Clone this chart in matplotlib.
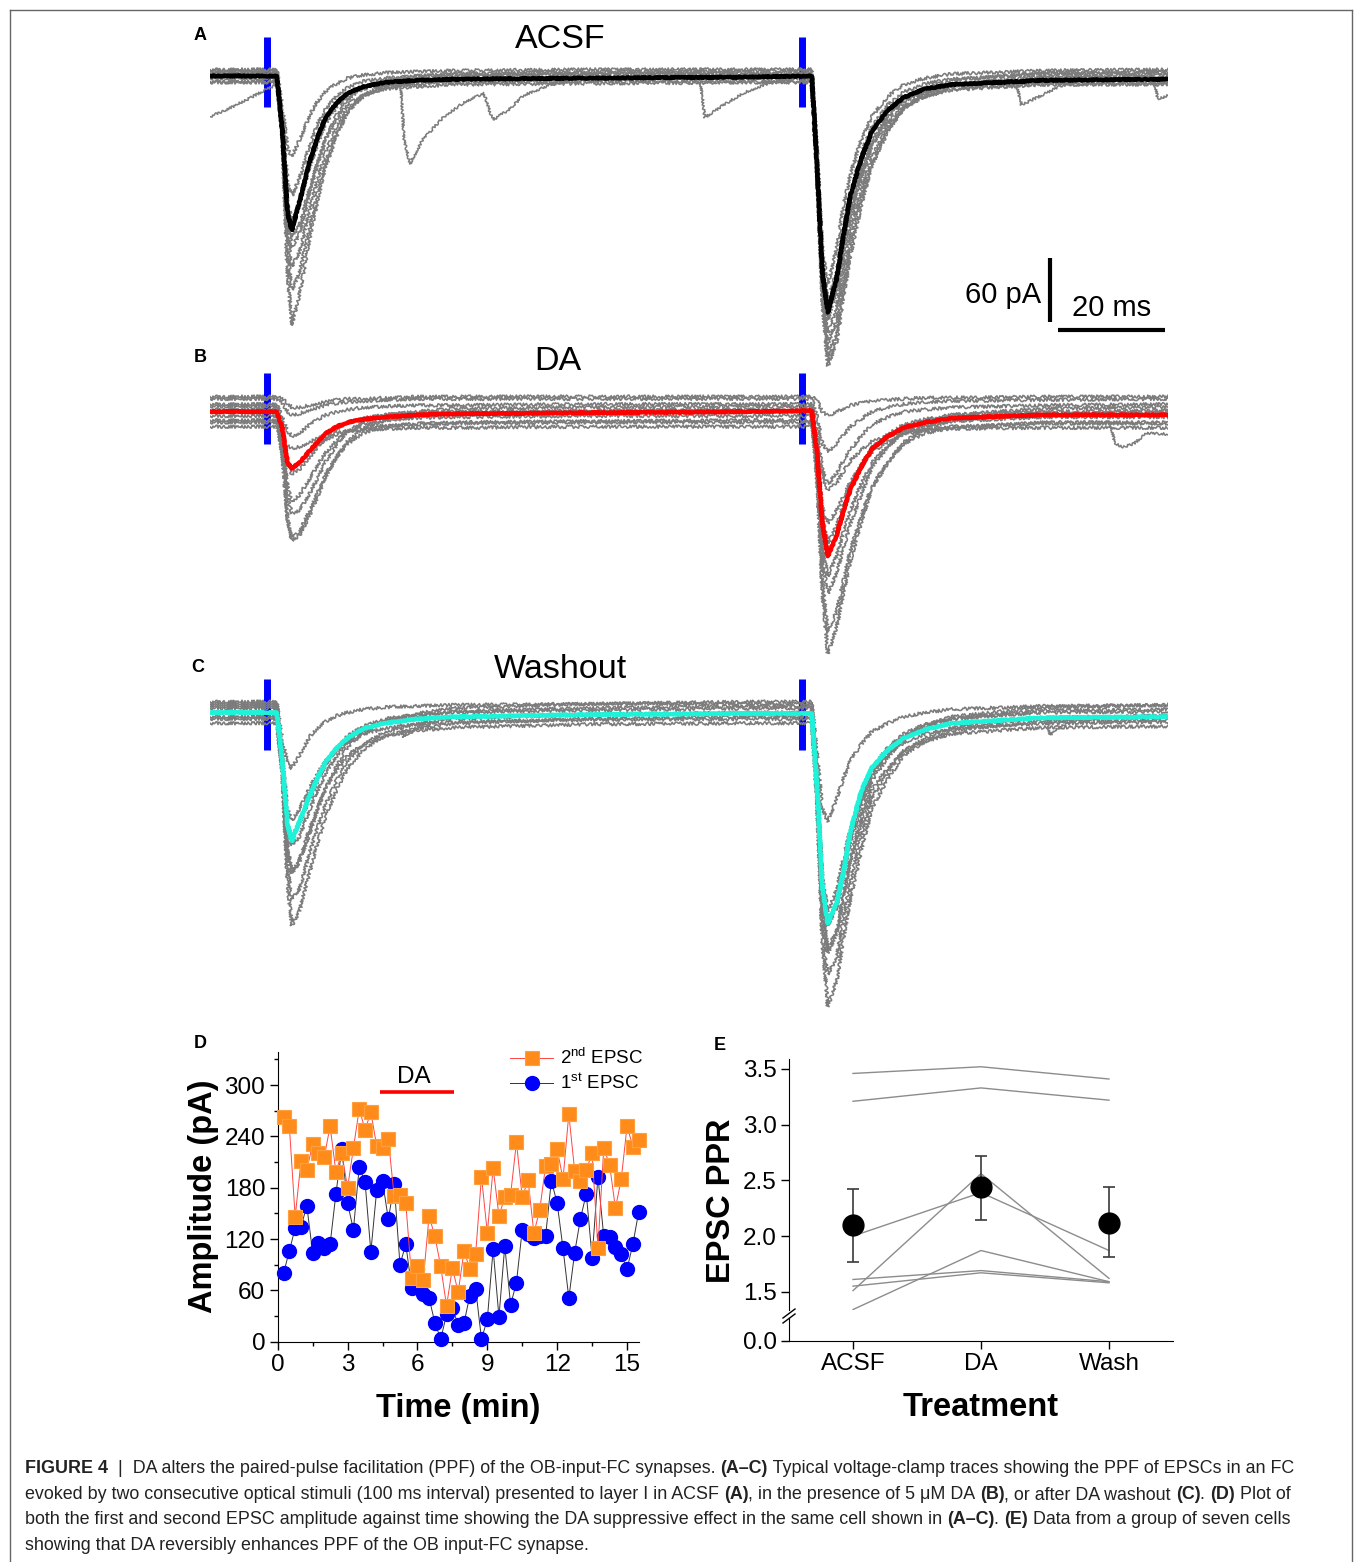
import matplotlib
matplotlib.use("Agg")
import matplotlib.pyplot as plt
from matplotlib import font_manager
from matplotlib.lines import Line2D
from matplotlib.ticker import MultipleLocator

W, H = 1354, 1562

# ---------------- traces (A-C): times in ms, currents in pA ----------------
T_KEY = [-10.7, 1.8, 2.8, 3.8, 4.6, 6.0, 8.0, 9.5, 11.0, 13.0, 15.0, 18.0, 22.0, 28.0, 35.0, 60.0, 90.0,
         101.8, 102.8, 103.8, 104.8, 106.5, 107.7, 109.0, 111.0, 113.0, 116.0, 119.0, 123.0, 128.0, 145.0, 168.4]
STIM_MS = [0, 100]
SCALE_PA = 60
SCALE_MS = 20

ACSF_AVG = [0, 0, -50, -128, -144, -118, -79, -56, -38, -25, -16, -10, -6, -4, -3, -2, -1,
            0, -85, -185, -221, -188, -150, -112, -78, -52, -32, -20, -12, -8, -4, -3]
ACSF_SWEEPS = [
    [6, 6, -28, -68, -75, -60, -36, -23, -14, -7, -2, 1, 3, 4, 5, 6, 6,
     6, -70, -165, -195, -160, -122, -92, -60, -38, -19, -8, -2, 2, 5, 6],
    [3, 3, -38, -98, -112, -96, -64, -44, -30, -19, -11, -5, -2, 0, 1, 2, 3,
     3, -78, -178, -210, -182, -142, -110, -73, -48, -27, -15, -7, -3, 2, 3],
    [-2, -2, -45, -118, -135, -118, -84, -62, -44, -29, -19, -12, -8, -6, -4, -3, -2,
     -2, -84, -190, -228, -200, -160, -126, -88, -60, -38, -24, -15, -10, -5, -4],
    [5, 5, -45, -135, -160, -148, -108, -81, -58, -36, -22, -10, -4, 0, 2, 4, 5,
     5, -82, -192, -240, -215, -173, -138, -96, -66, -39, -22, -11, -4, 3, 4],
    [-5, -5, -52, -150, -178, -165, -124, -95, -70, -47, -30, -18, -11, -8, -6, -5, -5,
     -5, -90, -200, -250, -228, -186, -150, -108, -76, -48, -30, -19, -12, -7, -7],
    [0, 0, -50, -165, -200, -185, -140, -107, -80, -53, -34, -19, -10, -5, -3, -1, 0,
     0, -88, -205, -262, -240, -200, -162, -116, -82, -50, -30, -16, -9, -2, -1],
    [2, 2, -52, -185, -233, -205, -150, -114, -84, -56, -34, -18, -8, -3, 0, 2, 2,
     2, -90, -212, -271, -248, -207, -168, -122, -84, -52, -30, -16, -8, 0, 1],
    [-6, -6, -48, -128, -150, -140, -104, -80, -58, -40, -26, -18, -12, -10, -8, -7, -6,
     -6, -86, -186, -220, -198, -162, -128, -94, -64, -44, -28, -19, -13, -8, -8],
]
ACSF_EVENTS = [
    ([-10.7, -7, -3, 0, 1.8], [-38, -30, -20, -12, -8]),
    ([23.5, 24.9, 25.6, 26.7, 29, 33, 37, 40.5, 41.4, 42.2, 45, 48, 53, 58],
     [-2, -3, -60, -82, -60, -38, -24, -16, -30, -41, -32, -18, -8, -3]),
    ([79, 80.9, 81.8, 85, 89, 93, 98], [-2, -2, -39, -28, -16, -8, -3]),
    ([138.5, 139.8, 141, 144, 148, 152], [0, -2, -27, -20, -10, -3]),
    ([164.5, 165.8, 166.5, 168.4], [0, -2, -22, -18]),
]

DA_AVG = [0, 0, -15, -48, -53, -48, -36, -28, -20, -14, -10, -7, -5, -3, -2, -1, 0,
          1, -40, -105, -135, -115, -93, -73, -52, -35, -23, -15, -10, -6, -3, -3]
DA_SWEEPS = [
    [12, 12, 8, 0, -3, -2, 2, 4, 6, 8, 9, 10, 11, 12, 12, 12, 12,
     12, -5, -30, -38, -30, -22, -14, -7, 0, 4, 7, 9, 10, 11, 12],
    [7, 7, -5, -18, -23, -20, -12, -7, -3, 0, 2, 4, 5, 6, 6, 7, 7,
     7, -20, -55, -68, -57, -46, -36, -23, -12, -5, 0, 2, 4, 6, 7],
    [-10, -10, -25, -45, -52, -48, -38, -31, -26, -21, -18, -15, -13, -12, -11, -10, -10,
     -10, -45, -90, -105, -92, -79, -66, -51, -38, -28, -21, -17, -14, -11, -11],
    [2, 2, -20, -50, -58, -54, -42, -32, -24, -16, -10, -6, -3, -1, 0, 1, 2,
     2, -40, -100, -123, -106, -88, -70, -50, -34, -21, -12, -7, -3, 0, 1],
    [-4, -4, -30, -70, -84, -78, -62, -49, -38, -27, -18, -12, -8, -6, -5, -4, -4,
     -4, -50, -125, -154, -134, -113, -92, -68, -48, -32, -20, -13, -9, -5, -5],
    [5, 5, -25, -80, -95, -92, -76, -61, -46, -31, -18, -10, -3, 0, 3, 4, 5,
     5, -55, -140, -170, -150, -128, -105, -78, -52, -33, -18, -9, -3, 3, 4],
    [-8, -8, -40, -100, -118, -112, -92, -75, -58, -42, -30, -20, -14, -11, -10, -9, -8,
     -8, -62, -158, -206, -186, -158, -130, -98, -70, -47, -30, -20, -15, -10, -10],
    [0, 0, -35, -100, -120, -116, -96, -78, -60, -42, -28, -16, -8, -4, -2, 0, 0,
     0, -65, -170, -226, -200, -170, -140, -104, -72, -48, -28, -16, -8, -2, -1],
    [14, 14, 12, 8, 4, 4, 6, 8, 9, 11, 12, 12, 13, 14, 14, 14, 14,
     14, 10, 0, -4, 0, 3, 6, 8, 10, 11, 12, 13, 13, 14, 14],
    [-14, -14, -22, -32, -34, -33, -28, -25, -22, -20, -18, -17, -16, -15, -15, -14, -14,
     -14, -30, -62, -74, -66, -56, -46, -36, -28, -23, -19, -17, -16, -15, -15],
]
DA_EVENTS = [
    ([156, 157.6, 158.5, 160, 162, 164.4, 168.4], [-10, -10, -30, -33, -30, -20, -21]),
]

WASH_AVG = [0, 0, -45, -105, -120, -102, -77, -60, -46, -33, -24, -15, -10, -6, -4, -2, -1,
            -1, -70, -165, -197, -177, -150, -112, -74, -52, -35, -24, -16, -10, -5, -4]
WASH_SWEEPS = [
    [8, 8, -25, -48, -52, -40, -22, -14, -8, -3, 0, 3, 5, 6, 7, 8, 8,
     8, -40, -90, -102, -80, -62, -45, -30, -18, -10, -4, 0, 3, 6, 7],
    [-6, -6, -45, -90, -101, -90, -70, -56, -45, -35, -28, -20, -15, -11, -9, -7, -6,
     -6, -65, -155, -186, -165, -137, -110, -80, -55, -40, -28, -20, -15, -10, -9],
    [4, 4, -45, -105, -116, -104, -80, -63, -48, -34, -22, -13, -6, -2, 0, 2, 4,
     4, -70, -168, -196, -178, -148, -118, -82, -52, -33, -20, -11, -6, 0, 1],
    [-10, -10, -55, -125, -150, -138, -108, -88, -70, -54, -40, -30, -22, -17, -14, -11, -10,
     -10, -80, -185, -225, -206, -172, -140, -104, -72, -52, -36, -27, -20, -14, -13],
    [10, 10, -45, -130, -150, -140, -112, -90, -70, -50, -32, -19, -8, -1, 4, 8, 10,
     10, -70, -180, -220, -204, -170, -138, -98, -64, -42, -24, -12, -4, 5, 7],
    [0, 0, -52, -145, -175, -165, -130, -106, -85, -63, -45, -30, -18, -11, -6, -2, 0,
     0, -80, -198, -245, -228, -192, -158, -116, -80, -56, -36, -24, -14, -5, -3],
    [-4, -4, -55, -160, -199, -186, -148, -120, -96, -72, -52, -35, -22, -15, -10, -6, -4,
     -4, -85, -215, -275, -250, -212, -175, -130, -90, -62, -40, -27, -17, -8, -7],
    [6, 6, -40, -110, -124, -116, -90, -72, -56, -41, -28, -17, -8, -3, 1, 4, 6,
     6, -72, -170, -199, -182, -152, -122, -88, -58, -38, -22, -13, -6, 2, 3],
]
WASH_EVENTS = [
    ([23.5, 24.9, 25.5, 27, 30], [-5, -6, -23, -18, -8]),
    ([144.5, 145.7, 146.3, 148, 151], [-4, -5, -21, -14, -6]),
]

# ---------------- panel D ----------------
D_TIME = [0.25, 0.5, 0.75, 1.0, 1.25, 1.5, 1.75, 2.0, 2.25, 2.5, 2.75, 3.0, 3.25, 3.5, 3.75, 4.0,
          4.25, 4.5, 4.75, 5.0, 5.25, 5.5, 5.75, 6.0, 6.25, 6.5, 6.75, 7.0, 7.25, 7.5, 7.75, 8.0,
          8.25, 8.5, 8.75, 9.0, 9.25, 9.5, 9.75, 10.0, 10.25, 10.5, 10.75, 11.0, 11.25, 11.5, 11.75,
          12.0, 12.25, 12.5, 12.75, 13.0, 13.25, 13.5, 13.75, 14.0, 14.25, 14.5, 14.75, 15.0, 15.25, 15.5]
EPSC2 = [263, 252, 146, 211, 201, 231, 221, 216, 252, 198, 221, 180, 226, 272, 248, 268,
         229, 227, 237, 170, 171, 162, 75, 88, 72, 147, 123, 88, 42, 86, 58, 106,
         85, 103, 193, 127, 203, 147, 169, 172, 233, 169, 189, 127, 154, 205, 208,
         225, 190, 266, 200, 188, 201, 220, 110, 226, 207, 156, 190, 252, 228, 236]
EPSC1 = [80, 106, 133, 134, 159, 104, 115, 110, 114, 173, 225, 162, 131, 204, 187, 105,
         177, 188, 143, 184, 90, 114, 63, 85, 56, 51, 22, 3, 32, 39, 20, 22,
         54, 62, 3, 26, 108, 29, 112, 43, 69, 131, 126, 121, 123, 123, 188,
         162, 109, 51, 104, 144, 173, 98, 193, 123, 122, 111, 102, 85, 114, 152]
DA_PERIOD = [4.4, 7.55]

# ---------------- panel E ----------------
E_GROUPS = ["ACSF", "DA", "Wash"]
E_MEAN = [2.10, 2.44, 2.12]
E_LOW = [1.77, 2.14, 1.81]
E_HIGH = [2.42, 2.72, 2.44]
E_CELLS = [
    [3.46, 3.52, 3.41],
    [3.21, 3.33, 3.22],
    [2.00, 2.39, 1.87],
    [1.51, 2.56, 1.62],
    [1.34, 1.87, 1.59],
    [1.61, 1.69, 1.59],
    [1.55, 1.67, 1.58],
]

plt.rcParams['font.family'] = ['Liberation Sans', 'DejaVu Sans']
plt.rcParams['mathtext.fontset'] = 'custom'
plt.rcParams['mathtext.rm'] = 'Liberation Sans'
plt.rcParams['mathtext.it'] = 'Liberation Sans:italic'
plt.rcParams['mathtext.bf'] = 'Liberation Sans:bold'

fig = plt.figure(figsize=(W / 100, H / 100), dpi=100)


def fx(x):
    return x / W


def fy(y):
    return 1 - y / H


PX_PER_PA = 1.07


def trace_axes(top, bottom, base):
    ax = fig.add_axes([fx(210), fy(bottom), 958 / W, (bottom - top) / H])
    ax.set_xlim(-10.7, 168.4)
    ax.set_ylim(-(bottom - base) / PX_PER_PA, (base - top) / PX_PER_PA)
    ax.axis('off')
    return ax


def draw_traces(ax, avg, sweeps, events, color, bar):
    ax.vlines(STIM_MS, bar[0], bar[1], color='#0000ff', lw=5, zorder=1)
    for s in sweeps:
        ln, = ax.plot(T_KEY, s, color='#7c7c7c', lw=1.15, zorder=2)
        ln.set_sketch_params(scale=1.6, length=3, randomness=3)
    for t, i in events:
        ln, = ax.plot(t, i, color='#7c7c7c', lw=1.1, zorder=2)
        ln.set_sketch_params(scale=1.2, length=3, randomness=3)
    ln, = ax.plot(T_KEY, avg, color=color, lw=3.2, zorder=3, solid_joinstyle='round')
    ln.set_sketch_params(scale=0.5, length=4, randomness=3)


axA = trace_axes(20, 380, 76)
draw_traces(axA, ACSF_AVG, ACSF_SWEEPS, ACSF_EVENTS, 'black', (-29, 36))
axB = trace_axes(365, 665, 411.7)
draw_traces(axB, DA_AVG, DA_SWEEPS, DA_EVENTS, '#ff0000', (-30, 36))
axC = trace_axes(670, 1012, 712.5)
draw_traces(axC, WASH_AVG, WASH_SWEEPS, WASH_EVENTS, '#1ef2d8', (-35, 31))

# scale bar
sb_t = 146.4
axA.plot([sb_t, sb_t], [-170, -170 - SCALE_PA], color='black', lw=3, solid_capstyle='butt')
axA.plot([sb_t + 1.5, sb_t + 1.5 + SCALE_MS], [-237, -237], color='black', lw=3, solid_capstyle='butt')
axA.text(sb_t - 1.8, -205, f"{SCALE_PA} pA", ha='right', va='center', fontsize=21)
axA.text(sb_t + 1.5 + SCALE_MS / 2, -217, f"{SCALE_MS} ms", ha='center', va='center', fontsize=21)

fig.text(fx(560), fy(40), "ACSF", ha='center', va='center', fontsize=24.5)
fig.text(fx(558), fy(362), "DA", ha='center', va='center', fontsize=24.5)
fig.text(fx(560), fy(670), "Washout", ha='center', va='center', fontsize=24.5)
for letter, x, y in [("A", 200, 35), ("B", 200, 357), ("C", 198, 668), ("D", 200, 1043), ("E", 720, 1046)]:
    fig.text(fx(x), fy(y), letter, ha='center', va='center', fontsize=13, fontweight='bold')

# ---------------- panel D ----------------
axD = fig.add_axes([fx(277.7), fy(1341.7), 361 / W, 290 / H])
h1, = axD.plot(D_TIME, EPSC1, '-', color='#333333', lw=0.7, marker='o', ms=10,
               mfc='#0000ff', mec='#0000ff', clip_on=False, zorder=3, label='1$^{\\mathrm{st}}$ EPSC')
h2, = axD.plot(D_TIME, EPSC2, '-', color='#ff4545', lw=0.7, marker='s', ms=9.5,
               mfc='#ff8c1a', mec='#ffa040', mew=0.8, clip_on=False, zorder=4, label='2$^{\\mathrm{nd}}$ EPSC')
axD.plot(DA_PERIOD, [292, 292], color='#ff0000', lw=2.6, solid_capstyle='butt')
axD.text(sum(DA_PERIOD) / 2 - 0.15, 296, "DA", ha='center', va='bottom', fontsize=17.5)
axD.set_xlim(0, 15.5)
axD.set_ylim(0, 339)
axD.set_xticks([0, 3, 6, 9, 12, 15])
axD.set_yticks([0, 60, 120, 180, 240, 300])
axD.xaxis.set_minor_locator(MultipleLocator(1.5))
axD.yaxis.set_minor_locator(MultipleLocator(30))
axD.tick_params(which='major', direction='out', length=6, width=1, labelsize=17.5, pad=3)
axD.tick_params(which='minor', direction='out', length=3, width=1)
for sp in ['top', 'right']:
    axD.spines[sp].set_visible(False)
axD.set_xlabel("Time (min)", fontsize=23.5, fontweight='bold', labelpad=12)
axD.set_ylabel("Amplitude (pA)", fontsize=23.5, fontweight='bold', labelpad=4)
axD.legend(handles=[h2, h1], loc='upper left', bbox_to_anchor=(fx(510), fy(1048)),
           bbox_transform=fig.transFigure, frameon=False, fontsize=13.5,
           handlelength=2.3, handletextpad=0.35, labelspacing=0.3, borderpad=0, borderaxespad=0)

# ---------------- panel E (broken y axis) ----------------
axE = fig.add_axes([fx(789), fy(1310), 384 / W, 250.7 / H])
axEb = fig.add_axes([fx(789), fy(1340.7), 384 / W, 22.7 / H])
xs = list(range(len(E_GROUPS)))
for cell in E_CELLS:
    axE.plot(xs, cell, color='#8c8c8c', lw=1.0, zorder=1)
yerr = [[m - lo for m, lo in zip(E_MEAN, E_LOW)], [hi - m for m, hi in zip(E_MEAN, E_HIGH)]]
axE.errorbar(xs, E_MEAN, yerr=yerr, fmt='o', color='black', ms=15, ecolor='#3a3a3a',
             elinewidth=1.2, capsize=4.5, capthick=1.2, zorder=3)
axE.set_xlim(-0.5, 2.5)
axE.set_ylim(1.336, 3.587)
axE.set_yticks([1.5, 2.0, 2.5, 3.0, 3.5])
axE.set_xticks([])
for sp in ['top', 'right', 'bottom']:
    axE.spines[sp].set_visible(False)
axE.tick_params(axis='y', direction='out', length=6, width=1, labelsize=17.5, pad=3)

axEb.set_xlim(-0.5, 2.5)
axEb.set_ylim(0, 0.204)
axEb.set_yticks([0])
axEb.set_yticklabels(["0.0"])
axEb.set_xticks(xs)
axEb.set_xticklabels(E_GROUPS)
for sp in ['top', 'right']:
    axEb.spines[sp].set_visible(False)
axEb.tick_params(direction='out', length=6, width=1, labelsize=17.5, pad=3)
axEb.set_xlabel("Treatment", fontsize=23.5, fontweight='bold', labelpad=12)
fig.text(fx(722), fy(1201), "EPSC PPR", rotation=90, ha='center', va='center',
         fontsize=23.5, fontweight='bold')
# break marks
for dy in (0, 5):
    fig.add_artist(Line2D([fx(783), fx(795)], [fy(1318 + dy), fy(1309 + dy)],
                          transform=fig.transFigure, color='black', lw=1))

# ---------------- frame ----------------
for xs_, ys_ in [([10, 10], [10, H]), ([10, 1352], [10, 10]), ([1352, 1352], [10, H])]:
    fig.add_artist(Line2D([fx(v) for v in xs_], [fy(v) for v in ys_],
                          transform=fig.transFigure, color='#666666', lw=1))

# ---------------- caption ----------------
CAPTION = [
    [("FIGURE 4", True), ("  |  DA alters the paired-pulse facilitation (PPF) of the OB-input-FC synapses. ", False),
     ("(A\u2013C)", True), (" Typical voltage-clamp traces showing the PPF of EPSCs in an FC", False)],
    [("evoked by two consecutive optical stimuli (100 ms interval) presented to layer I in ACSF ", False),
     ("(A)", True), (", in the presence of 5 \u03bcM DA ", False), ("(B)", True),
     (", or after DA washout ", False), ("(C)", True), (". ", False), ("(D)", True), (" Plot of", False)],
    [("both the first and second EPSC amplitude against time showing the DA suppressive effect in the same cell shown in ", False),
     ("(A\u2013C)", True), (". ", False), ("(E)", True), (" Data from a group of seven cells", False)],
    [("showing that DA reversibly enhances PPF of the OB input-FC synapse.", False)],
]
CAPTION_BASELINES = [1473, 1499, 1524.5, 1550]

names = {f.name for f in font_manager.fontManager.ttflist}
cap_family = 'Liberation Sans Narrow' if 'Liberation Sans Narrow' in names else 'Liberation Sans'
renderer = fig.canvas.get_renderer()


def advance(s, bold, fs):
    t = fig.text(0, 0, "|" + s + "|", fontsize=fs, family=cap_family,
                 fontweight='bold' if bold else 'normal')
    w = t.get_window_extent(renderer).width
    t.remove()
    t2 = fig.text(0, 0, "||", fontsize=fs, family=cap_family,
                  fontweight='bold' if bold else 'normal')
    w2 = t2.get_window_extent(renderer).width
    t2.remove()
    return w - w2


def line_width(segs, fs):
    return sum(advance(s, b, fs) for s, b in segs)


fs = 12.0
fs = fs * 1270 / line_width(CAPTION[0], fs)
for segs, yb in zip(CAPTION, CAPTION_BASELINES):
    x = 25
    for s, b in segs:
        fig.text(fx(x), fy(yb), s, fontsize=fs, family=cap_family, color='#222222',
                 fontweight='bold' if b else 'normal', va='baseline', ha='left')
        x += advance(s, b, fs)

fig.savefig("out.png", dpi=100)
